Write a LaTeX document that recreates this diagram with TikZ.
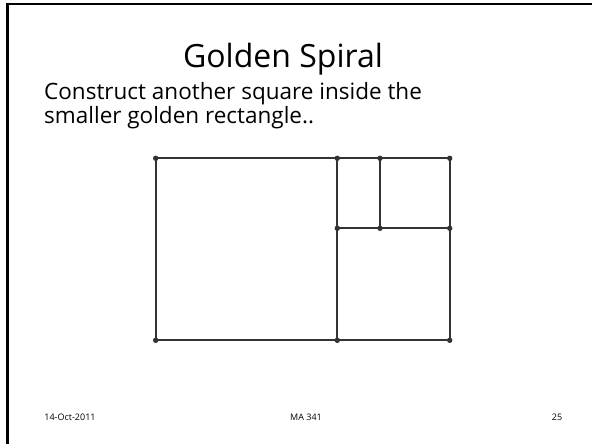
\documentclass[tikz,border=0pt]{standalone}
\usepackage{fontspec}
\setmainfont{Open Sans}
\usepackage{xcolor}
\usetikzlibrary{calc}
\definecolor{ink}{HTML}{333333}
\tikzset{
  frameLine/.style={draw=black, line width=2.4pt},
  rectSeg/.style={draw=ink, line width=2pt},
  dotPt/.style={fill=ink},
  titleText/.style={anchor=base, inner sep=0pt, font=\fontsize{32}{38}\selectfont},
  bodyText/.style={anchor=base west, inner sep=0pt, font=\fontsize{22.5}{24}\selectfont},
  footText/.style={anchor=base, inner sep=0pt, font=\fontsize{9}{11}\selectfont}
}

\begin{document}
\begin{tikzpicture}[x=1pt,y=-1pt]
  \useasboundingbox (0,0) rectangle (592,444);

  % slide frame
  \draw[frameLine] (7.5,450) -- (7.5,4.3) -- (600,4.3);

  \node[titleText] (title) at (283,67.7) {Golden Spiral};
  \node[bodyText] (line1) at (44,99.3) {Construct another square inside the};
  \node[bodyText] (line2) at (44,123.3) {smaller golden rectangle..};

  \coordinate (A) at (155.7,158.3);
  \coordinate (B) at (337.3,158.3);
  \coordinate (C) at (380,158.3);
  \coordinate (D) at (449.7,158.3);
  \coordinate (E) at (337.3,228.3);
  \coordinate (F) at (380,228.3);
  \coordinate (G) at (449.7,228.3);
  \coordinate (H) at (155.7,340.3);
  \coordinate (I) at (337.3,340.3);
  \coordinate (J) at (449.7,340.3);

  \draw[rectSeg] (A)--(D)--(J)--(H)--cycle;
  \draw[rectSeg] (B)--(I);
  \draw[rectSeg] (E)--(G);
  \draw[rectSeg] (C)--(F);

  \foreach \p in {A,B,C,D,E,F,G,H,I,J}
    \fill[dotPt] (\p) circle (2.7pt);

  \node[footText] (date) at (70,420) {14-Oct-2011};
  \node[footText] (course) at (306,420) {MA 341};
  \node[footText] (page) at (557,420) {25};
\end{tikzpicture}
\end{document}
